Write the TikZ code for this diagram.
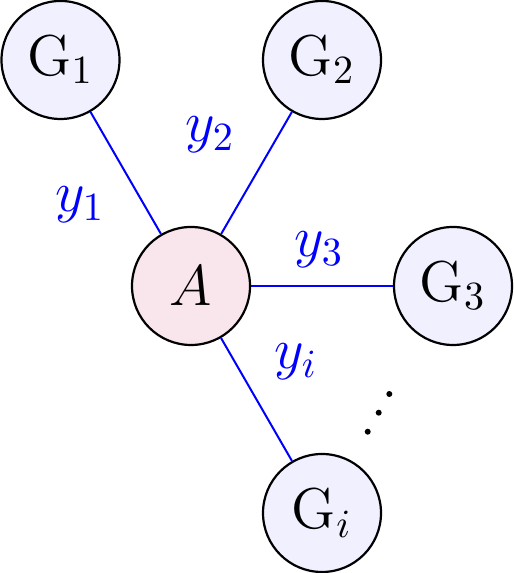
\documentclass[tikz,border=0pt]{standalone}
\usepackage{tikz}
\begin{document}
\begin{tikzpicture}[x=0.25pt,y=0.25pt,
  gnode/.style={circle,draw=black,line width=0.55pt,fill=blue!6,minimum size=29.5pt,inner sep=0pt,font=\Large},
  anode/.style={gnode,fill=purple!10},
  edge/.style={draw=blue,line width=0.5pt},
  lab/.style={text=blue,font=\Large,inner sep=0pt}]
\useasboundingbox (0,0) rectangle (513,573);
\node[anode] (A) at (191,287) {$A$};
\node[gnode] (G1) at (60.5,513) {$\mathrm{G}_1$};
\node[gnode] (G2) at (322,513) {$\mathrm{G}_2$};
\node[gnode] (G3) at (453,287) {$\mathrm{G}_3$};
\node[gnode] (Gi) at (322,60) {$\mathrm{G}_i$};
\draw[edge] (A) -- (G1);
\draw[edge] (A) -- (G2);
\draw[edge] (A) -- (G3);
\draw[edge] (A) -- (Gi);
\node[lab] (l1) at (80,368) {$y_1$};
\node[lab] (l2) at (210,438) {$y_2$};
\node[lab] (l3) at (319,323) {$y_3$};
\node[lab] (li) at (296,211) {$y_i$};
\fill (367.7,141.3) circle (3);
\fill (378.7,160.3) circle (3);
\fill (389.3,179) circle (3);
\end{tikzpicture}
\end{document}
